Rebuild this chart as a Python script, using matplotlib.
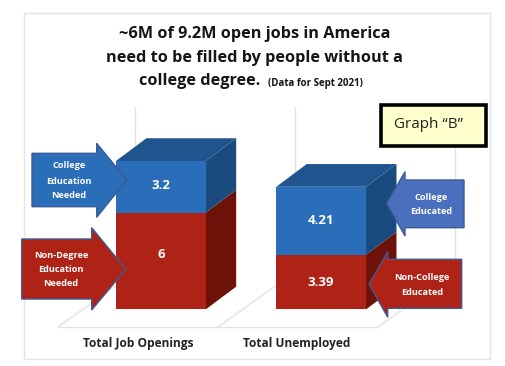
import matplotlib
matplotlib.use("Agg")
import matplotlib.pyplot as plt
from matplotlib.patches import Polygon, Rectangle, FancyBboxPatch

# data
categories = ["Total Job Openings", "Total Unemployed"]
non_college = [6, 3.39]
college = [3.2, 4.21]
title_lines = ["~6M of 9.2M open jobs in America",
               "need to be filled by people without a"]
title_last = "college degree."
title_note = "(Data for Sept 2021)"
badge = "Graph \u201cB\u201d"

W, H = 505, 366
FONT = "Open Sans"
fig = plt.figure(figsize=(W/100, H/100), dpi=100, facecolor="white")

# data axes spanning the whole figure
ax = fig.add_axes([0, 0, 1, 1])
ax.set_xlim(-1.0034, 2.1470)
ax.set_ylim(-3.51, 19.18)
ax.axis("off")

# pixel overlay for annotations
ov = fig.add_axes([0, 0, 1, 1], zorder=5)
ov.set_xlim(0, W)
ov.set_ylim(H, 0)
ov.axis("off")
ov.patch.set_alpha(0)

# frame and 3D wall / floor lines (pixel layer underneath)
GRID = "#E2E2E2"
ax.add_patch(Rectangle((0, 0), 1, 1, transform=ax.transAxes, fc="white", ec="none", zorder=0))
bg = fig.add_axes([0, 0, 1, 1], zorder=-1)
bg.set_xlim(0, W); bg.set_ylim(H, 0); bg.axis("off")
ax.patch.set_alpha(0)
ax.patches[0].set_visible(False)
bg.add_patch(Rectangle((24, 12.5), 466, 346.5, fc="white", ec="#E4E4E4", lw=1))
bg.plot([58, 378], [327, 327], color=GRID, lw=1)
for x0, x1 in [(58, 135), (218, 295), (378, 455)]:
    bg.plot([x0, x1], [327, 272], color=GRID, lw=1)
for x in (135, 295, 455):
    bg.plot([x, x], [272, 107], color=GRID, lw=1)

# 3D stacked bars
BW = 0.56
DX, DY = 0.19, 1.41
BLUE, BLUE_TOP, BLUE_SIDE = "#2A6DB9", "#20548F", "#1A4B7E"
RED, RED_SIDE = "#AF2317", "#6E1209"

for i in range(len(categories)):
    r, c = non_college[i], college[i]
    xr = i + BW/2
    ax.add_patch(Polygon([(xr, 0), (xr+DX, DY), (xr+DX, r+DY), (xr, r)], fc=RED_SIDE, ec="none", zorder=2))
    ax.add_patch(Polygon([(xr, r), (xr+DX, r+DY), (xr+DX, r+c+DY), (xr, r+c)], fc=BLUE_SIDE, ec="none", zorder=2))
    ax.add_patch(Polygon([(i-BW/2, r+c), (i-BW/2+DX, r+c+DY), (xr+DX, r+c+DY), (xr, r+c)], fc=BLUE_TOP, ec="none", zorder=2))
ax.bar(range(2), non_college, width=BW, color=RED, zorder=3)
ax.bar(range(2), college, bottom=non_college, width=BW, color=BLUE, zorder=3)
for i in range(2):
    ax.text(i, non_college[i]/2 + (0.42 if i == 0 else 0), str(non_college[i]), color="white", ha="center", va="center",
            fontsize=9.5, fontweight="bold", family=FONT, zorder=4)
    ax.text(i, non_college[i] + college[i]/2 + (0.05 if i == 0 else 0), str(college[i]), color="white", ha="center", va="center",
            fontsize=9.5, fontweight="bold", family=FONT, zorder=4)

# callout arrows
EDGE = "#3D5A94"
arrows = [
    ([(32, 153.3), (96.7, 153.3), (96.7, 143.3), (126.7, 180), (96.7, 217.3), (96.7, 206.7), (32, 206.7)], BLUE),
    ([(21.7, 239), (91.7, 239), (91.7, 227.7), (125.7, 269.3), (91.7, 310), (91.7, 299), (21.7, 299)], RED),
    ([(464, 180), (405, 180), (405, 171.7), (386.7, 203.3), (405, 236), (405, 227.7), (464, 227.7)], "#4A6FBD"),
    ([(461.7, 259.3), (387.7, 259.3), (387.7, 251.7), (369, 284), (387.7, 317.3), (387.7, 308.3), (461.7, 308.3)], RED),
]
for pts, col in arrows:
    ov.add_patch(Polygon(pts, fc=col, ec=EDGE, lw=1.0))

labels = [
    (69, [166, 181, 195], ["College", "Education", "Needed"]),
    (61, [255, 270, 284], ["Non-Degree", "Education", "Needed"]),
    (431.5, [197, 212], ["College", "Educated"]),
    (422, [277.5, 292.5], ["Non-College", "Educated"]),
]
for x, ys, lines in labels:
    for y, s in zip(ys, lines):
        ov.text(x, y, s, color="white", ha="center", va="center", fontsize=6.6, fontweight="bold", family=FONT)

# badge
ov.add_patch(Rectangle((381, 105), 104.5, 40.5, fc="#FFFFCD", ec="black", lw=2.6))
ov.text(429, 124.5, badge, ha="center", va="center", fontsize=11, color="#222222", family=FONT)

# title
ov.text(255, 34.5, title_lines[0], ha="center", va="center", fontsize=11.7, fontweight="bold", color="#151515", family=FONT)
ov.text(255, 57.5, title_lines[1], ha="center", va="center", fontsize=11.7, fontweight="bold", color="#151515", family=FONT)
ov.text(260.5, 81, title_last, ha="right", va="center", fontsize=11.7, fontweight="bold", color="#151515", family=FONT)
ov.text(268, 83.5, title_note, ha="left", va="center", fontsize=7, fontweight="bold", color="#151515", family=FONT)

# category labels
for x, s in zip((138, 297), categories):
    ov.text(x, 343, s, ha="center", va="center", fontsize=8.6, fontweight="bold", color="#222222", family=FONT)

fig.savefig("out.png", dpi=100, facecolor="white")
